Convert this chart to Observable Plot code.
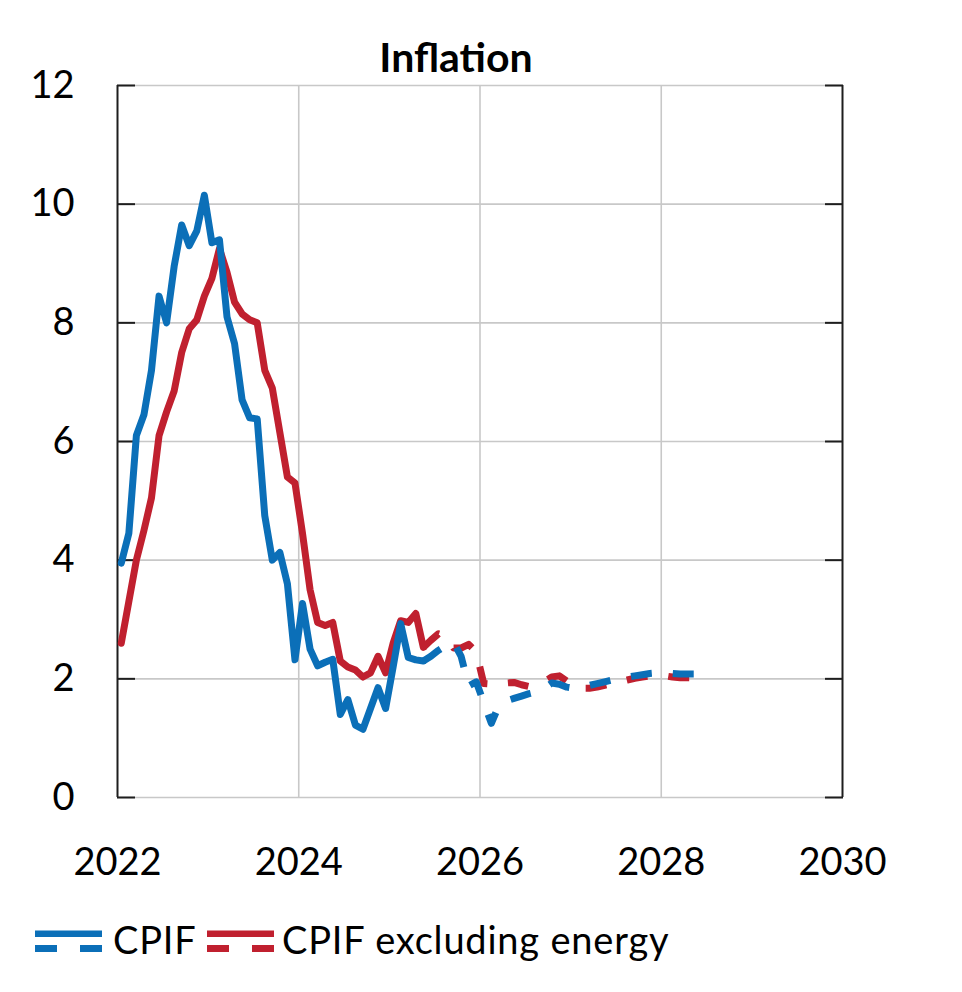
<!DOCTYPE html>
<html><head><meta charset="utf-8">
<script src="https://cdn.jsdelivr.net/npm/d3@7"></script>
<script src="https://cdn.jsdelivr.net/npm/@observablehq/plot@0.6"></script>
<style>
body{margin:0;background:#fff;font-family:Lato,"Open Sans",sans-serif;}
#wrap{position:relative;width:962px;height:992px;background:#fff;}
#chart{position:absolute;left:0;top:0;}
#title{position:absolute;left:0;top:36px;width:912px;text-align:center;font-weight:700;font-size:41px;line-height:41px;color:#000;}
.lg{position:absolute;top:920px;font-size:38px;line-height:38px;letter-spacing:0.8px;color:#000;white-space:nowrap;}
.sw{position:absolute;top:927px;}
</style></head><body>
<div id="wrap">
<div id="chart"></div>
<div id="title">Inflation</div>
<div id="legend"></div>
</div>
<script>
// ---- data (monthly, starting January 2022) ----
const startYear = 2022;
const seriesNames = ["CPIF", "CPIF excluding energy"];
const seriesColors = ["#0b6fb8", "#c0202f"];
// outcomes Jan 2022 .. May 2025
const cpifActual = [3.95, 4.45, 6.1, 6.45, 7.2, 8.45, 8.0, 8.95, 9.65, 9.3, 9.55, 10.15,
  9.35, 9.4, 8.1, 7.65, 6.7, 6.4, 6.38, 4.75, 4.0, 4.13, 3.6, 2.32,
  3.27, 2.5, 2.22, 2.28, 2.33, 1.4, 1.65, 1.22, 1.15, 1.5, 1.85, 1.5,
  2.2, 2.93, 2.36, 2.32, 2.3];
const cpifExActual = [2.6, 3.3, 4.0, 4.5, 5.05, 6.1, 6.5, 6.85, 7.5, 7.9, 8.05, 8.45,
  8.75, 9.25, 8.85, 8.35, 8.15, 8.05, 8.0, 7.2, 6.9, 6.15, 5.4, 5.3,
  4.45, 3.5, 2.95, 2.9, 2.95, 2.3, 2.2, 2.15, 2.03, 2.1, 2.38, 2.1,
  2.6, 2.98, 2.95, 3.1, 2.53];
// forecasts May 2025 .. Jun 2028
const forecastStart = 40;
const cpifForecast = [2.3, 2.38, 2.48, 2.56, 2.62, 2.38, 1.88, 1.95, 1.6, 1.25, 1.55, 1.63,
  1.67, 1.71, 1.75, 1.78, 1.84, 1.93, 1.91, 1.86, 1.84, 1.86, 1.89, 1.92,
  1.95, 1.98, 2.01, 2.03, 2.05, 2.07, 2.09, 2.1, 2.1, 2.09, 2.08, 2.08, 2.08, 2.08];
const cpifExForecast = [2.53, 2.65, 2.76, 2.72, 2.52, 2.52, 2.58, 2.45, 1.92, 1.91, 1.89, 1.93,
  1.94, 1.9, 1.87, 1.9, 1.95, 2.03, 2.05, 1.96, 1.88, 1.84, 1.84, 1.86,
  1.89, 1.92, 1.95, 1.98, 2.01, 2.03, 2.05, 2.06, 2.05, 2.03, 2.02, 2.02, 2.02, 2.02];
const xTicks = [2022, 2024, 2026, 2028, 2030];
const xGrid = [2024, 2026, 2028];
const yTicks = [0, 2, 4, 6, 8, 10, 12];

// ---- rows ----
const toRows = (vals, offset) => vals.map((v, k) => ({t: startYear + (offset + k + 0.5) / 12, v}));
const rowsCpifA = toRows(cpifActual, 0);
const rowsCpifExA = toRows(cpifExActual, 0);
const rowsCpifF = toRows(cpifForecast, forecastStart);
const rowsCpifExF = toRows(cpifExForecast, forecastStart);

const lw = 7, dash = "21,21";
const chart = Plot.plot({
  width: 962, height: 900,
  marginTop: 85, marginBottom: 103, marginLeft: 117, marginRight: 120,
  x: {domain: [2022, 2030], label: null},
  y: {domain: [0, 12], label: null},
  style: {fontFamily: "Lato, 'Open Sans', sans-serif", fontSize: "37px", color: "#000", background: "#fff", overflow: "visible"},
  marks: [
    Plot.gridY(yTicks, {stroke: "#c8c8c8", strokeOpacity: 1, strokeWidth: 1.6}),
    Plot.gridX(xGrid, {stroke: "#c8c8c8", strokeOpacity: 1, strokeWidth: 1.6}),
    Plot.ruleX([2022, 2030], {stroke: "#1e1e1e", strokeWidth: 2}),
    Plot.axisY(yTicks, {anchor: "left", tickSize: 0, tickPadding: 43, tickFormat: d => String(d), fontSize: 38}),
    Plot.axisY(yTicks, {anchor: "left", tickSize: 18, dx: 18, tickFormat: () => "", stroke: "#1e1e1e", strokeWidth: 2}),
    Plot.axisY(yTicks, {anchor: "right", tickSize: 18, dx: -18, tickFormat: () => "", stroke: "#1e1e1e", strokeWidth: 2}),
    Plot.axisX(xTicks, {anchor: "bottom", tickSize: 0, tickPadding: 51, tickFormat: d => String(d), fontSize: 38}),
    Plot.line(rowsCpifExA, {x: "t", y: "v", stroke: seriesColors[1], strokeWidth: lw, strokeLinejoin: "round"}),
    Plot.line(rowsCpifExF, {x: "t", y: "v", stroke: seriesColors[1], strokeWidth: lw, strokeDasharray: dash, strokeLinecap: "butt"}),
    Plot.line(rowsCpifA, {x: "t", y: "v", stroke: seriesColors[0], strokeWidth: lw, strokeLinejoin: "round"}),
    Plot.line(rowsCpifF, {x: "t", y: "v", stroke: seriesColors[0], strokeWidth: lw, strokeDasharray: dash, strokeLinecap: "butt"})
  ]
});
document.getElementById("chart").appendChild(chart);

// ---- legend ----
const legend = document.getElementById("legend");
const swLeft = [35, 207], txtLeft = [113, 282];
seriesNames.forEach((name, i) => {
  const c = seriesColors[i];
  const sw = document.createElement("div");
  sw.className = "sw";
  sw.style.left = swLeft[i] + "px";
  sw.innerHTML = `<svg width="67" height="26"><rect x="0" y="3.5" width="67" height="6.5" fill="${c}"/><rect x="0" y="18" width="22" height="7" fill="${c}"/><rect x="45" y="18" width="22" height="7" fill="${c}"/></svg>`;
  legend.appendChild(sw);
  const t = document.createElement("div");
  t.className = "lg";
  t.style.left = txtLeft[i] + "px";
  t.textContent = name;
  legend.appendChild(t);
});
</script>
</body></html>
